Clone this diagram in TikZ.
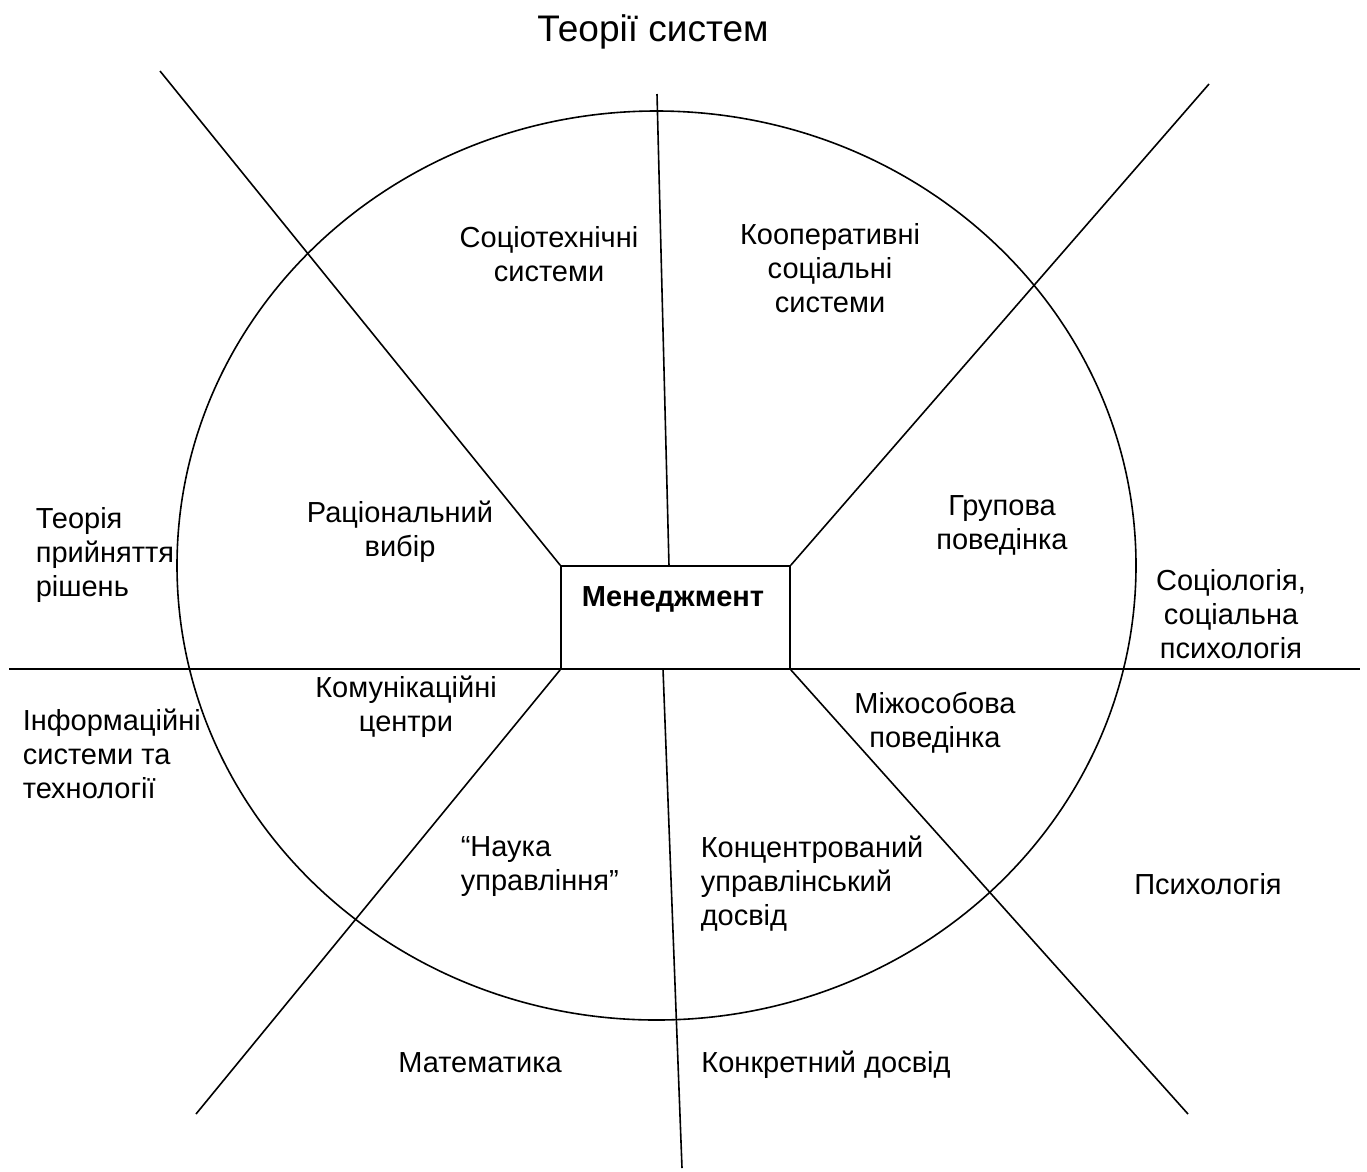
\documentclass[tikz,border=0pt]{standalone}
\usepackage{fontspec}
\setmainfont{Liberation Sans}
\begin{document}
\begin{tikzpicture}[x=1pt,y=-1pt,
  line width=1.6pt,
  lbl/.style={inner sep=0pt, font=\fontsize{29}{34}\selectfont, align=center},
  lbll/.style={lbl, align=left, anchor=west},
  lblb/.style={inner sep=0pt, font=\fontsize{29}{34}\selectfont, anchor=base},
  ray/.style={draw, line width=1.6pt}]
\useasboundingbox (0,0) rectangle (1367,1171);
% outer ring
\draw (656.5,565.5) ellipse [x radius=479.5, y radius=454.5];
% horizontal axis
\coordinate (hl) at (9,669);
\coordinate (hr) at (1360,669);
\draw (hl) -- (hr);
% central box
\node[draw, minimum width=229pt, minimum height=103pt, inner sep=0pt] (mgmt) at (675.5,617.5) {};
\node[inner sep=0pt, anchor=base, font=\fontsize{29}{34}\selectfont\bfseries] (mtext) at (673,606) {Менеджмент};
% ray end points
\coordinate (ul) at (160,71);
\coordinate (ut) at (657,94);
\coordinate (ur) at (1209,84);
\coordinate (ll) at (196,1114);
\coordinate (lb) at (682,1168);
\coordinate (lr) at (1188,1114);
\coordinate (mt) at (669,566);
\coordinate (mb) at (663,669);
\draw[ray] (ul) -- (mgmt.north west);
\draw[ray] (ut) -- (mt);
\draw[ray] (ur) -- (mgmt.north east);
\draw[ray] (ll) -- (mgmt.south west);
\draw[ray] (lb) -- (mb);
\draw[ray] (lr) -- (mgmt.south east);
% labels
\node[inner sep=0pt, anchor=base, font=\fontsize{37}{42}\selectfont] (title) at (653,41) {Теорії систем};
\node[lbl] (soc) at (549,254) {Соціотехнічні\\системи};
\node[lbl] (coop) at (830,268) {Кооперативні\\соціальні\\системи};
\node[lbl] (rat) at (400,532) {Раціональний\\вибір};
\node[lbl] (grp) at (1002,525) {Групова\\поведінка};
\node[lbll] (teor) at (35,555) {Теорія\\прийняття\\рішень};
\node[lbl] (sociol) at (1231,614) {Соціологія,\\соціальна\\психологія};
\node[lbl] (komun) at (406,707) {Комунікаційні\\центри};
\node[lbll] (inform) at (22,754) {Інформаційні\\системи та\\технології};
\node[lbl] (mizh) at (935,723) {Міжособова\\поведінка};
\node[lbll] (nauka) at (460,867) {“Наука\\управління”};
\node[lbll] (konc) at (700,884) {Концентрований\\управлінський\\досвід};
\node[lblb] (psych) at (1208,894) {Психологія};
\node[lblb] (math) at (480,1072) {Математика};
\node[lblb] (konkr) at (826,1072) {Конкретний досвід};
\end{tikzpicture}
\end{document}
